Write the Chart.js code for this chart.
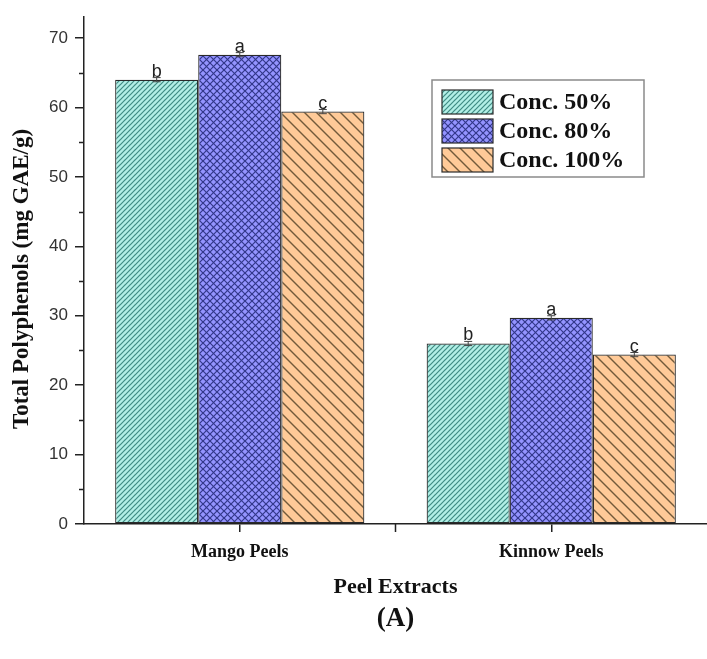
<!DOCTYPE html>
<html>
<head>
<meta charset="utf-8">
<script src="https://cdn.jsdelivr.net/npm/chart.js@4.4.1/dist/chart.umd.min.js"></script>
<style>
  html, body { margin: 0; padding: 0; background: #ffffff; overflow: hidden; }
  #wrap { width: 707px; height: 659px; }
</style>
</head>
<body>
<div id="wrap"><canvas id="chart" width="707" height="659"></canvas></div>
<script>
// Total polyphenols of peel extracts at three extraction concentrations
const categories = ['Mango Peels', 'Kinnow Peels'];
const seriesNames = ['Conc. 50%', 'Conc. 80%', 'Conc. 100%'];
const conc50 = [64.0, 26.0];
const conc80 = [67.6, 29.7];
const conc100 = [59.4, 24.4];
const err50 = [0.3, 0.3];
const err80 = [0.3, 0.3];
const err100 = [0.3, 0.3];
const letters50 = ['b', 'b'];
const letters80 = ['a', 'a'];
const letters100 = ['c', 'c'];
const yTickValues = [0, 10, 20, 30, 40, 50, 60, 70];
const yMinorValues = [5, 15, 25, 35, 45, 55, 65];
const yAxisTitle = 'Total Polyphenols (mg GAE/g)';
const panelLabel = '(A)';

const SERIF = '"Liberation Serif", "Times New Roman", serif';
const SANS = '"Liberation Sans", Arial, sans-serif';

// Hatched fills: diagonal stripes, cross-hatch and wide back-diagonal stripes
function makePattern(size, bg, fg, lw, dirs) {
  const c = document.createElement('canvas');
  c.width = size; c.height = size;
  const g = c.getContext('2d');
  g.fillStyle = bg;
  g.fillRect(0, 0, size, size);
  g.strokeStyle = fg;
  g.lineWidth = lw;
  g.lineCap = 'square';
  for (const d of dirs) {
    for (const k of [-size, 0, size]) {
      g.beginPath();
      if (d === '/') { g.moveTo(k, size); g.lineTo(k + size, 0); }
      else { g.moveTo(k, 0); g.lineTo(k + size, size); }
      g.stroke();
    }
  }
  return g.createPattern(c, 'repeat');
}

const patterns = [
  makePattern(5, '#b2efe6', '#3f8b83', 1.2, ['/']),
  makePattern(7, '#9494ff', '#33388a', 1.2, ['/', '\\']),
  makePattern(12, '#ffca98', '#735a3a', 1.4, ['\\'])
];

const seriesValues = [conc50, conc80, conc100];
const seriesErrors = [err50, err80, err100];
const seriesLetters = [letters50, letters80, letters100];

const datasets = seriesNames.map((name, i) => ({
  label: name,
  data: seriesValues[i],
  backgroundColor: patterns[i],
  borderColor: '#2a2a2a',
  borderWidth: 1.2,
  borderSkipped: false,
  categoryPercentage: 0.8,
  barPercentage: 1.0
}));

const extrasPlugin = {
  id: 'extras',
  afterDatasetsDraw(chart) {
    const ctx = chart.ctx;
    const y = chart.scales.y;
    const x = chart.scales.x;
    const area = chart.chartArea;
    ctx.save();
    // error bars and significance letters
    chart.data.datasets.forEach((ds, i) => {
      const meta = chart.getDatasetMeta(i);
      meta.data.forEach((bar, j) => {
        const v = seriesValues[i][j];
        const e = seriesErrors[i][j];
        const yHi = y.getPixelForValue(v + e);
        const yLo = y.getPixelForValue(v - e);
        ctx.strokeStyle = '#444';
        ctx.lineWidth = 1;
        ctx.beginPath();
        ctx.moveTo(bar.x, yHi); ctx.lineTo(bar.x, yLo);
        ctx.moveTo(bar.x - 4, yHi); ctx.lineTo(bar.x + 4, yHi);
        ctx.moveTo(bar.x - 4, yLo); ctx.lineTo(bar.x + 4, yLo);
        ctx.stroke();
        ctx.fillStyle = '#222';
        ctx.font = '18px ' + SANS;
        ctx.textAlign = 'center';
        ctx.textBaseline = 'alphabetic';
        ctx.fillText(seriesLetters[i][j], bar.x, yHi - 1);
      });
    });
    // minor ticks on the value axis
    ctx.strokeStyle = '#222';
    ctx.lineWidth = 1.5;
    ctx.beginPath();
    yMinorValues.forEach(v => {
      const py = Math.round(y.getPixelForValue(v)) + 0.5;
      ctx.moveTo(y.right - 5, py); ctx.lineTo(y.right, py);
    });
    // tick between the two groups
    const mid = (x.getPixelForValue(0) + x.getPixelForValue(1)) / 2;
    ctx.moveTo(mid, x.top); ctx.lineTo(mid, x.top + 8);
    ctx.stroke();
    // legend
    const lx = 432, ly = 80, lw = 212, lh = 97;
    ctx.fillStyle = '#ffffff';
    ctx.fillRect(lx, ly, lw, lh);
    ctx.strokeStyle = '#8a8a8a';
    ctx.lineWidth = 1.5;
    ctx.strokeRect(lx, ly, lw, lh);
    seriesNames.forEach((name, i) => {
      const cy = 102 + i * 29;
      ctx.fillStyle = patterns[i];
      ctx.fillRect(442, cy - 12, 51, 24);
      ctx.strokeStyle = '#2a2a2a';
      ctx.lineWidth = 1.2;
      ctx.strokeRect(442, cy - 12, 51, 24);
      ctx.fillStyle = '#111';
      ctx.font = 'bold 24px ' + SERIF;
      ctx.textAlign = 'left';
      ctx.textBaseline = 'middle';
      ctx.fillText(name, 499, cy + 1);
    });
    // value axis title, rotated
    ctx.save();
    ctx.translate(22, 279);
    ctx.rotate(-Math.PI / 2);
    ctx.fillStyle = '#111';
    ctx.font = 'bold 23px ' + SERIF;
    ctx.textAlign = 'center';
    ctx.textBaseline = 'middle';
    ctx.fillText(yAxisTitle, 0, 0);
    ctx.restore();
    // panel label under the plot
    ctx.fillStyle = '#111';
    ctx.font = 'bold 27px ' + SERIF;
    ctx.textAlign = 'center';
    ctx.textBaseline = 'middle';
    ctx.fillText(panelLabel, (area.left + area.right) / 2, 619);
    ctx.restore();
  }
};

new Chart(document.getElementById('chart'), {
  type: 'bar',
  data: { labels: categories, datasets: datasets },
  options: {
    responsive: false,
    animation: false,
    layout: { padding: { top: 15, right: 0, bottom: 0, left: 0 } },
    plugins: {
      legend: { display: false },
      tooltip: { enabled: false },
      title: { display: false }
    },
    scales: {
      x: {
        type: 'category',
        offset: true,
        grid: { display: true, drawOnChartArea: false, drawTicks: true, tickLength: 8, color: '#222', lineWidth: 1.5, offset: false },
        border: { display: true, color: '#222', width: 1.5 },
        ticks: { color: '#111', font: { family: SERIF, size: 18, weight: 'bold' }, padding: 10 },
        title: {
          display: true,
          text: 'Peel Extracts',
          color: '#111',
          font: { family: SERIF, size: 22, weight: 'bold' },
          padding: { top: 0, bottom: 58 }
        },
        afterFit(scale) { scale.height = 135; }
      },
      y: {
        min: 0,
        max: 73,
        afterBuildTicks(scale) { scale.ticks = yTickValues.map(v => ({ value: v })); },
        grid: { display: true, drawOnChartArea: false, drawTicks: true, tickLength: 9, color: '#222', lineWidth: 1.5 },
        border: { display: true, color: '#222', width: 1.5 },
        ticks: { color: '#333', font: { family: SANS, size: 17 }, padding: 7 },
        afterFit(scale) { scale.width = 84; }
      }
    }
  },
  plugins: [extrasPlugin]
});
</script>
</body>
</html>
